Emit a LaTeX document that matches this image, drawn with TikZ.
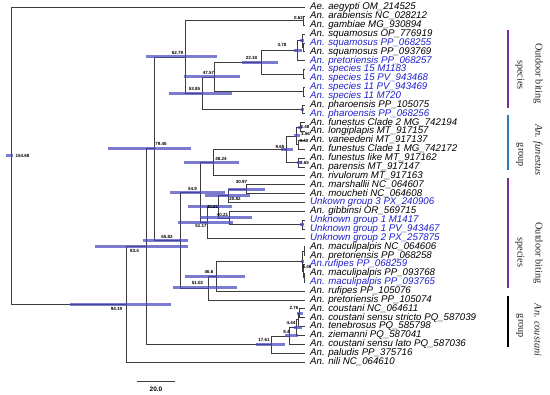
\documentclass[tikz,border=0pt]{standalone}
\usepackage{fontspec}
\setmainfont{Liberation Serif}
\newfontfamily\leaffont{Liberation Sans}
\definecolor{treeline}{HTML}{3C3C3C}
\definecolor{hpdblue}{HTML}{4848C0}
\definecolor{newblue}{HTML}{2020CC}
\definecolor{outpurple}{HTML}{7A2E9C}
\definecolor{funblue}{HTML}{2B7BBA}
\tikzset{
  branch/.style={draw=treeline, line width=0.7pt},
  hpd/.style={fill=hpdblue, fill opacity=0.72},
  leaf/.style={anchor=west, inner xsep=5pt, inner ysep=0pt, text height=6.9pt, text depth=2pt,
    font=\leaffont\itshape\fontsize{9.7}{10}\selectfont},
  newleaf/.style={leaf, text=newblue},
  age/.style={inner sep=0pt, font=\leaffont\bfseries\fontsize{4.5}{5}\selectfont},
  grplab/.style={rotate=-90, inner sep=0pt, text=black!85, font=\fontsize{10.3}{12}\selectfont},
  bracket/.style={line width=1.3pt},
}

\begin{document}
\begin{tikzpicture}[x=1pt, y=-1pt]
\useasboundingbox (0,0) rectangle (550,395);

% tips
\node[leaf]    (l01) at (305,  7.50) {Ae. aegypti OM\_214525};
\node[leaf]    (l02) at (305, 16.36) {An. arabiensis NC\_028212};
\node[leaf]    (l03) at (305, 25.22) {An. gambiae MG\_930894};
\node[leaf]    (l04) at (305, 34.08) {An. squamosus OP\_776919};
\node[newleaf] (l05) at (305, 42.94) {An. squamosus PP\_068255};
\node[leaf]    (l06) at (305, 51.80) {An. squamosus PP\_093769};
\node[newleaf] (l07) at (305, 60.66) {An. pretoriensis PP\_068257};
\node[newleaf] (l08) at (305, 69.52) {An. species 15 M1183};
\node[newleaf] (l09) at (305, 78.38) {An. species 15 PV\_943468};
\node[newleaf] (l10) at (305, 87.24) {An. species 11 PV\_943469};
\node[newleaf] (l11) at (305, 96.10) {An. species 11 M720};
\node[leaf]    (l12) at (305,104.96) {An. pharoensis PP\_105075};
\node[newleaf] (l13) at (305,113.82) {An. pharoensis PP\_068256};
\node[leaf]    (l14) at (305,122.68) {An. funestus Clade 2 MG\_742194};
\node[leaf]    (l15) at (305,131.54) {An. longiplapis MT\_917157};
\node[leaf]    (l16) at (305,140.40) {An. vaneedeni MT\_917137};
\node[leaf]    (l17) at (305,149.26) {An. funestus Clade 1 MG\_742172};
\node[leaf]    (l18) at (305,158.12) {An. funestus like MT\_917162};
\node[leaf]    (l19) at (305,166.98) {An. parensis MT\_917147};
\node[leaf]    (l20) at (305,175.84) {An. rivulorum MT\_917163};
\node[leaf]    (l21) at (305,184.70) {An. marshallii NC\_064607};
\node[leaf]    (l22) at (305,193.56) {An. moucheti NC\_064608};
\node[newleaf] (l23) at (305,202.42) {Unkown group 3 PX\_240906};
\node[leaf]    (l24) at (305,211.28) {An. gibbinsi OR\_569715};
\node[newleaf] (l25) at (305,220.14) {Unknown group 1 M1417};
\node[newleaf] (l26) at (305,229.00) {Unknown group 1 PV\_943467};
\node[newleaf] (l27) at (305,237.86) {Unknown group 2 PX\_257875};
\node[leaf]    (l28) at (305,246.72) {An. maculipalpis NC\_064606};
\node[leaf]    (l29) at (305,255.58) {An. pretoriensis PP\_068258};
\node[newleaf] (l30) at (305,264.44) {An.rufipes PP\_068259};
\node[leaf]    (l31) at (305,273.30) {An. maculipalpis PP\_093768};
\node[newleaf] (l32) at (305,282.16) {An. maculipalpis PP\_093765};
\node[leaf]    (l33) at (305,291.02) {An. rufipes PP\_105076};
\node[leaf]    (l34) at (305,299.88) {An. pretoriensis PP\_105074};
\node[leaf]    (l35) at (305,308.74) {An. coustani NC\_064611};
\node[leaf]    (l36) at (305,317.60) {An. coustani sensu stricto PQ\_587039};
\node[leaf]    (l37) at (305,326.46) {An. tenebrosus PQ\_585798};
\node[leaf]    (l38) at (305,335.32) {An. ziemanni PQ\_587041};
\node[leaf]    (l39) at (305,344.18) {An. coustani sensu lato PQ\_587036};
\node[leaf]    (l40) at (305,353.04) {An. paludis PP\_375716};
\node[leaf]    (l41) at (305,361.90) {An. nili NC\_064610};

% internal nodes (x = 305 - 1.9*age)
\coordinate (root)  at ( 11.0,155.86);
\coordinate (n9419) at (126.0,304.22);
\coordinate (n834)  at (146.5,246.54);
\coordinate (n7945) at (154.0,148.61);
\coordinate (n6279) at (185.7, 57.00);
\coordinate (n062)  at (303.8, 20.79);
\coordinate (n5385) at (202.7, 93.20);
\coordinate (n4757) at (214.6, 77.00);
\coordinate (n2318) at (261.0, 62.30);
\coordinate (n378)  at (297.8, 50.70);
\coordinate (nsq)   at (302.5, 40.73);
\coordinate (nsq56) at (303.5, 47.37);
\coordinate (nsp15) at (303.0, 73.95);
\coordinate (nsp11) at (303.0, 91.67);
\coordinate (nphar) at (302.0,109.39);
\coordinate (n6582) at (180.0,240.22);
\coordinate (n549)  at (200.7,192.46);
\coordinate (n4824) at (213.3,162.55);
\coordinate (n965)  at (286.7,149.26);
\coordinate (nA)    at (296.0,135.97);
\coordinate (nA1)   at (300.3,127.11);
\coordinate (nA2)   at (298.5,144.83);
\coordinate (nB)    at (298.0,162.55);
\coordinate (n5117) at (207.8,222.36);
\coordinate (n4081) at (218.0,206.86);
\coordinate (n2082) at (228.0,195.78);
\coordinate (n3097) at (246.2,189.13);
\coordinate (n4021) at (229.0,217.93);
\coordinate (nU1)   at (302.5,224.57);
\coordinate (n5102) at (208.1,287.98);
\coordinate (n466)  at (216.5,276.07);
\coordinate (nM)    at (302.8,261.12);
\coordinate (nM1)   at (304.2,251.15);
\coordinate (nM3)   at (303.6,271.09);
\coordinate (nM2)   at (304.2,277.73);
\coordinate (n1761) at (271.5,344.47);
\coordinate (nC4)   at (289.0,335.90);
\coordinate (nC3)   at (296.6,327.57);
\coordinate (nC2)   at (298.5,319.82);
\coordinate (nC1)   at (299.8,313.17);

% branches
\draw[branch] (root) |- (l01.west) (root) |- (n9419);
\draw[branch] (n9419) |- (n834) (n9419) |- (l41.west);
\draw[branch] (n834) |- (n7945) (n834) |- (n1761);
\draw[branch] (n7945) |- (n6279) (n7945) |- (n6582);
\draw[branch] (n6279) |- (n062) (n6279) |- (n5385);
\draw[branch] (n062) |- (l02.west) (n062) |- (l03.west);
\draw[branch] (n5385) |- (n4757) (n5385) |- (nphar);
\draw[branch] (n4757) |- (n2318) (n4757) |- (nsp11);
\draw[branch] (n2318) |- (n378) (n2318) |- (nsp15);
\draw[branch] (n378) |- (nsq) (n378) |- (l07.west);
\draw[branch] (nsq) |- (l04.west) (nsq) |- (nsq56);
\draw[branch] (nsq56) |- (l05.west) (nsq56) |- (l06.west);
\draw[branch] (nsp15) |- (l08.west) (nsp15) |- (l09.west);
\draw[branch] (nsp11) |- (l10.west) (nsp11) |- (l11.west);
\draw[branch] (nphar) |- (l12.west) (nphar) |- (l13.west);
\draw[branch] (n6582) |- (n549) (n6582) |- (n5102);
\draw[branch] (n549) |- (n4824) (n549) |- (n5117);
\draw[branch] (n4824) |- (n965) (n4824) |- (l20.west);
\draw[branch] (n965) |- (nA) (n965) |- (nB);
\draw[branch] (nA) |- (nA1) (nA) |- (nA2);
\draw[branch] (nA1) |- (l14.west) (nA1) |- (l15.west);
\draw[branch] (nA2) |- (l16.west) (nA2) |- (l17.west);
\draw[branch] (nB) |- (l18.west) (nB) |- (l19.west);
\draw[branch] (n5117) |- (n4081) (n5117) |- (l27.west);
\draw[branch] (n4081) |- (n2082) (n4081) |- (n4021);
\draw[branch] (n2082) |- (n3097) (n2082) |- (l23.west);
\draw[branch] (n3097) |- (l21.west) (n3097) |- (l22.west);
\draw[branch] (n4021) |- (l24.west) (n4021) |- (nU1);
\draw[branch] (nU1) |- (l25.west) (nU1) |- (l26.west);
\draw[branch] (n5102) |- (n466) (n5102) |- (l34.west);
\draw[branch] (n466) |- (nM) (n466) |- (l33.west);
\draw[branch] (nM) |- (nM1) (nM) |- (nM3);
\draw[branch] (nM1) |- (l28.west) (nM1) |- (l29.west);
\draw[branch] (nM3) |- (l30.west) (nM3) |- (nM2);
\draw[branch] (nM2) |- (l31.west) (nM2) |- (l32.west);
\draw[branch] (n1761) |- (nC4) (n1761) |- (l40.west);
\draw[branch] (nC4) |- (nC3) (nC4) |- (l39.west);
\draw[branch] (nC3) |- (nC2) (nC3) |- (l38.west);
\draw[branch] (nC2) |- (nC1) (nC2) |- (l37.west);
\draw[branch] (nC1) |- (l35.west) (nC1) |- (l36.west);

% 95% HPD bars
\fill[hpd] (  6,154.4) rectangle ( 13,157.4);
\fill[hpd] ( 70,302.7) rectangle (171,305.7);
\fill[hpd] ( 95,245.0) rectangle (188,248.0);
\fill[hpd] (108,147.1) rectangle (191,150.1);
\fill[hpd] (146, 55.5) rectangle (217, 58.5);
\fill[hpd] (169, 91.7) rectangle (232, 94.7);
\fill[hpd] (184, 75.5) rectangle (240, 78.5);
\fill[hpd] (242, 60.8) rectangle (278, 63.8);
\fill[hpd] (294, 49.2) rectangle (302, 52.2);
\fill[hpd] (300, 39.2) rectangle (304, 42.2);
\fill[hpd] (301,107.9) rectangle (304,110.9);
\fill[hpd] (143,238.7) rectangle (188,241.7);
\fill[hpd] (170,191.0) rectangle (225,194.0);
\fill[hpd] (184,161.0) rectangle (239,164.0);
\fill[hpd] (281,147.8) rectangle (293,150.8);
\fill[hpd] (294,134.5) rectangle (300,137.5);
\fill[hpd] (298,125.6) rectangle (302,128.6);
\fill[hpd] (297,161.0) rectangle (301,164.0);
\fill[hpd] (228,187.6) rectangle (265,190.6);
\fill[hpd] (205,194.3) rectangle (250,197.3);
\fill[hpd] (188,205.4) rectangle (232,208.4);
\fill[hpd] (200,216.4) rectangle (252,219.4);
\fill[hpd] (178,220.9) rectangle (233,223.9);
\fill[hpd] (300,223.1) rectangle (304,226.1);
\fill[hpd] (173,286.5) rectangle (237,289.5);
\fill[hpd] (185,274.6) rectangle (245,277.6);
\fill[hpd] (301,259.6) rectangle (304,262.6);
\fill[hpd] (256,343.0) rectangle (285,346.0);
\fill[hpd] (285,334.4) rectangle (298,337.4);
\fill[hpd] (294,326.1) rectangle (302,329.1);
\fill[hpd] (297,311.7) rectangle (303,314.7);

% node ages
\node[age] (a15468) at ( 22.5,156) {154.68};
\node[age] (a9419)  at (116.5,309) {94.19};
\node[age] (a834)   at (134.5,251) {83.4};
\node[age] (a7945)  at (161.0,144) {79.45};
\node[age] (a6279)  at (177.5, 53) {62.79};
\node[age] (a5385)  at (194.5, 89) {53.85};
\node[age] (a4757)  at (208.5, 73) {47.57};
\node[age] (a2318)  at (251.5, 58) {23.18};
\node[age] (a378)   at (282.0, 45) {3.78};
\node[age] (a062)   at (298.5, 18) {0.62};
\node[age] (a6582)  at (167.0,237) {65.82};
\node[age] (a549)   at (192.5,189) {54.9};
\node[age] (a4824)  at (221.0,159) {48.24};
\node[age] (a965)   at (280.0,147) {9.65};
\node[age] (a248)   at (305.0,127) {2.48};
\node[age] (a356)   at (305.5,133.5) {3.56};
\node[age] (a340)   at (304.0,141) {3.40};
\node[age] (a365)   at (304.5,163) {3.65};
\node[age] (a3097)  at (241.5,182) {30.97};
\node[age] (a2082)  at (235.0,199) {20.82};
\node[age] (a4081)  at (212.5,207) {40.81};
\node[age] (a4021)  at (222.5,215) {40.21};
\node[age] (a5117)  at (201.0,226) {51.17};
\node[age] (a466)   at (209.0,272) {46.6};
\node[age] (a5102)  at (197.5,283) {51.02};
\node[age] (a546)   at (307.0,267) {5.46};
\node[age] (a1761)  at (264.0,340) {17.61};
\node[age] (a84)    at (286.5,332) {8.4};
\node[age] (a444)   at (291.0,323) {4.44};
\node[age] (a276)   at (294.0,308) {2.76};

% scale bar
\coordinate (sbl) at (137,381);
\coordinate (sbr) at (175,381);
\draw[branch] (sbl) -- (sbr);
\node[age, font=\leaffont\bfseries\fontsize{6.5}{7}\selectfont] (sblab) at (156,389) {20.0};

% groups on the right
\coordinate (b1t) at (508, 30);  \coordinate (b1b) at (508,108);
\coordinate (b2t) at (508,115);  \coordinate (b2b) at (508,170);
\coordinate (b3t) at (508,178);  \coordinate (b3b) at (508,288);
\coordinate (b4t) at (508,296);  \coordinate (b4b) at (508,347);
\draw[bracket, outpurple] (b1t) -- (b1b);
\draw[bracket, funblue]   (b2t) -- (b2b);
\draw[bracket, outpurple] (b3t) -- (b3b);
\draw[bracket, black]     (b4t) -- (b4b);

\node[grplab] (g1a) at (538, 73.5) {Outdoor biting};
\node[grplab] (g1b) at (520, 75.0) {species};
\node[grplab] (g2a) at (538,150.0) {\itshape An. funestus};
\node[grplab] (g2b) at (520,155.0) {group};
\node[grplab] (g3a) at (538,253.0) {Outdoor biting};
\node[grplab] (g3b) at (520,252.5) {species};
\node[grplab] (g4a) at (538,330.0) {\itshape An. coustani};
\node[grplab] (g4b) at (520,326.0) {group};
\end{tikzpicture}
\end{document}
